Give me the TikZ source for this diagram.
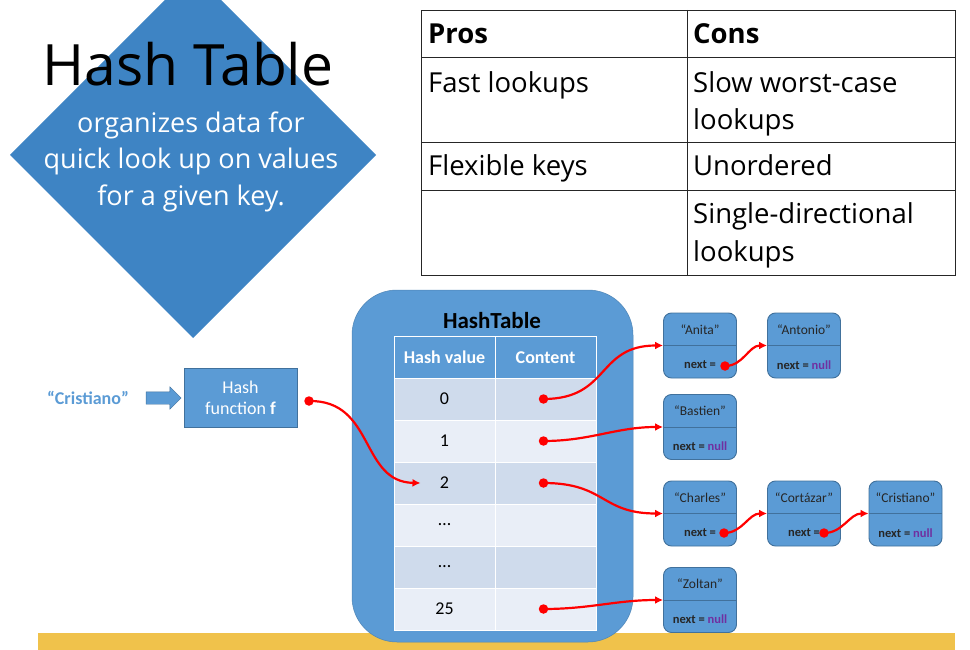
\documentclass[tikz,border=0pt]{standalone}
\usepackage{fontspec}
\setmainfont{Carlito}
\newfontfamily\slidefont{Open Sans}
\usetikzlibrary{arrows.meta,shapes.arrows}

\definecolor{diamondblue}{HTML}{3E84C4}
\definecolor{boxblue}{HTML}{5B9BD5}
\definecolor{boxedge}{HTML}{41719C}
\definecolor{rowdark}{HTML}{CFDBEC}
\definecolor{rowlight}{HTML}{E9EEF7}
\definecolor{baryellow}{HTML}{F0C24B}
\definecolor{nullpurple}{HTML}{7030A0}

\tikzset{
  listbox/.style={draw=boxedge, fill=boxblue, rounded corners=8pt, minimum width=73pt, minimum height=65pt, line width=.9pt},
  keytext/.style={font=\fontsize{13.5}{15}\selectfont, text=black!85},
  nexttext/.style={font=\bfseries\fontsize{12.5}{15}\selectfont, text=black!85},
  ptr/.style={red, line width=2.2pt, -{Latex[length=8pt,width=8pt]}},
  ptrdot/.style={circle, fill=red, inner sep=0pt, minimum size=9.5pt},
  cell/.style={draw=white, line width=.8pt, minimum width=101pt, minimum height=42pt, inner sep=0pt, font=\fontsize{18}{20}\selectfont},
  slidetext/.style={font=\slidefont\fontsize{27.5}{36}\selectfont, anchor=base west, inner sep=0pt},
}

% one list element: name, x, y, key, next field
\newcommand{\listnode}[5]{%
  \node[listbox] (#1) at (#2,#3) {};
  \draw[boxedge, line width=.9pt] (#1.west) -- (#1.east);
  \node[keytext] (#1k) at ([yshift=16pt]#1.center) {#4};
  \node[nexttext] (#1n) at ([yshift=-19.5pt]#1.center) {#5};
}

\begin{document}
\begin{tikzpicture}[x=1pt,y=1pt]
\useasboundingbox (0,0) rectangle (970,-650);

% title diamond
\fill[diamondblue] (193,28) -- (376,-155) -- (193,-338) -- (10,-155) -- cycle;
\node[font=\slidefont\fontsize{57}{60}\selectfont, anchor=base, inner sep=0pt] (title) at (188,-86) {Hash Table};
\node[font=\slidefont\fontsize{27}{36}\selectfont, text=white, anchor=base, inner sep=0pt] (sub1) at (191,-133) {organizes data for};
\node[font=\slidefont\fontsize{27}{36}\selectfont, text=white, anchor=base, inner sep=0pt] (sub2) at (191,-169) {quick look up on values};
\node[font=\slidefont\fontsize{27}{36}\selectfont, text=white, anchor=base, inner sep=0pt] (sub3) at (191,-205) {for a given key.};

% pros and cons
\draw[black!85, line width=.8pt] (421,-10) rectangle (955,-275);
\draw[black!85, line width=.8pt] (687,-10) -- (687,-275);
\foreach \y in {57,142,190} \draw[black!85, line width=.8pt] (421,-\y) -- (955,-\y);
\node[slidetext, font=\slidefont\bfseries\fontsize{27.5}{36}\selectfont] (pros) at (428,-44) {Pros};
\node[slidetext, font=\slidefont\bfseries\fontsize{27.5}{36}\selectfont] (cons) at (693,-44) {Cons};
\node[slidetext] (pro1) at (428,-93) {Fast lookups};
\node[slidetext] (con1) at (693,-93) {Slow worst-case};
\node[slidetext] (con1b) at (693,-130) {lookups};
\node[slidetext] (pro2) at (428,-176) {Flexible keys};
\node[slidetext] (con2) at (693,-176) {Unordered};
\node[slidetext] (con3) at (693,-224) {Single-directional};
\node[slidetext] (con3b) at (693,-261) {lookups};

% footer bar
\fill[baryellow] (38,-633) rectangle (955,-650);

% hash function
\node[text=boxblue, font=\bfseries\fontsize{18}{20}\selectfont] (input) at (88,-398) {“Cristiano”};
\node[draw=boxedge, fill=boxblue, minimum width=113pt, minimum height=59pt, text=white, align=center, font=\fontsize{18}{21}\selectfont] (hashf) at (240.5,-397.5) {Hash\\function \textbf{f}};
\node[single arrow, draw=boxedge, fill=boxblue, minimum height=35pt, inner xsep=0pt, inner ysep=6pt, single arrow head extend=5pt] (feed) at (160.5,-398) {};

% the table
\node[draw=boxblue!85!black, line width=.5pt, fill=boxblue, rounded corners=45pt, minimum width=281pt, minimum height=352pt] (container) at (492.5,-466) {};
\node[font=\bfseries\fontsize{23}{26}\selectfont] (httitle) at (492,-321) {HashTable};
\node[cell, fill=boxblue, text=white, font=\bfseries\fontsize{18}{20}\selectfont] (hh) at (444.5,-357.5) {Hash value};
\node[cell, fill=boxblue, text=white, font=\bfseries\fontsize{18}{20}\selectfont] (ch) at (545.5,-357.5) {Content};
\foreach \i/\v/\c in {0/0/rowdark,1/1/rowlight,2/2/rowdark,3/\ldots/rowlight,4/\ldots/rowdark,5/25/rowlight}{
  \node[cell, fill=\c] (h\i) at (444.5,-399-42*\i) {\v};
  \node[cell, fill=\c] (c\i) at (545.5,-399-42*\i) {};
}

% chains
\listnode{anita}{700}{-345.5}{“Anita”}{next =\hspace{6pt}}
\listnode{antonio}{804}{-345.5}{“Antonio”}{next = \textcolor{nullpurple}{null}}
\listnode{bastien}{700}{-427}{“Bastien”}{next = \textcolor{nullpurple}{null}}
\listnode{charles}{700}{-513.5}{“Charles”}{next =\hspace{6pt}}
\listnode{cortazar}{804}{-513.5}{“Cortázar”}{next =\hspace{8pt}}
\listnode{cristiano}{905.5}{-513.5}{“Cristiano”}{next = \textcolor{nullpurple}{null}}
\listnode{zoltan}{700}{-600}{“Zoltan”}{next = \textcolor{nullpurple}{null}}

% pointers
\node[ptrdot] (fdot) at (309,-401) {};
\draw[ptr] (fdot.center) .. controls (375,-400) and (360,-482) .. ([xshift=-24pt]h2.center);
\foreach \i in {0,1,2,5} \node[ptrdot] (d\i) at ([xshift=-2pt]c\i.center) {};
\draw[ptr] (d0.center) to[out=0,in=180,looseness=1.3] (anita.west);
\draw[ptr] (d1.center) to[out=0,in=180] (bastien.west);
\draw[ptr] (d2.center) to[out=0,in=180,looseness=1.3] (charles.west);
\draw[ptr] (d5.center) to[out=0,in=180] (zoltan.west);
\node[ptrdot] (an) at ([shift={(25,-20.5)}]anita.center) {};
\node[ptrdot] (chn) at ([shift={(24,-19.5)}]charles.center) {};
\node[ptrdot] (con) at ([shift={(20,-19.5)}]cortazar.center) {};
\draw[ptr] (an.center) to[out=0,in=180] (antonio.west);
\draw[ptr] (chn.center) to[out=0,in=180] (cortazar.west);
\draw[ptr] (con.center) to[out=0,in=180] (cristiano.west);
\end{tikzpicture}
\end{document}
